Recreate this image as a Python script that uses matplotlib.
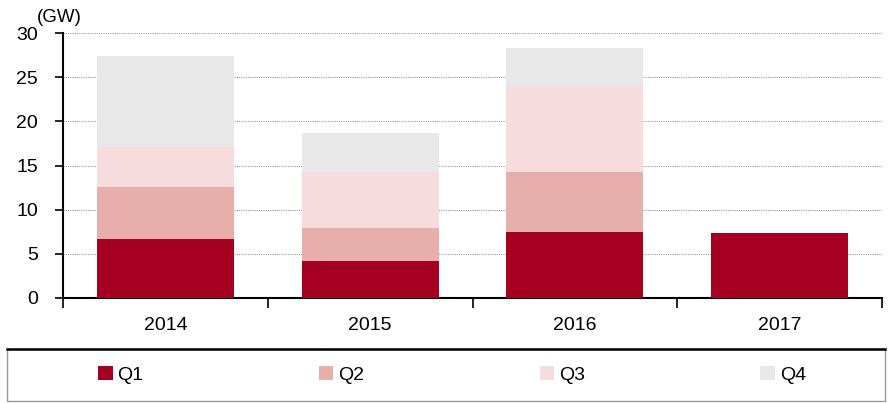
import matplotlib
matplotlib.use("Agg")
import matplotlib.pyplot as plt
import numpy as np
from matplotlib.patches import Rectangle
from matplotlib.lines import Line2D

plt.rcParams['font.family'] = ['Liberation Sans', 'DejaVu Sans']

years = ['2014', '2015', '2016', '2017']
q1 = [6.7, 4.2, 7.5, 7.4]
q2 = [5.9, 3.7, 6.8, 0]
q3 = [4.5, 6.4, 9.7, 0]
q4 = [10.3, 4.35, 4.3, 0]
labels = ['Q1', 'Q2', 'Q3', 'Q4']
colors = ['#A50021', '#E8AEAC', '#F6DCDC', '#E8E8E8']

fig = plt.figure(figsize=(8.91, 4.03), dpi=100)
ax = fig.add_axes([63/891, 105/403, 819/891, 265/403])

x = np.arange(len(years))
bottom = np.zeros(len(years))
for vals, lab, c in zip([q1, q2, q3, q4], labels, colors):
    v = np.array(vals)
    ax.bar(x, v, 0.67, bottom=bottom, color=c, label=lab, zorder=3)
    bottom += v

ax.set_xlim(-0.5, 3.5)
ax.set_ylim(0, 30)
ax.set_yticks(np.arange(0, 31, 5))
ax.yaxis.grid(True, linestyle=(0, (1, 1)), color='#999999', linewidth=0.8, zorder=0)
ax.set_axisbelow(True)
ax.spines['top'].set_visible(False)
ax.spines['right'].set_visible(False)
ax.spines['left'].set_linewidth(1.5)
ax.spines['bottom'].set_linewidth(1.5)
ax.tick_params(axis='y', direction='out', length=6, width=1.2, pad=12, labelsize=14)
ax.set_xticks(x)
ax.set_xticklabels(years)
ax.set_xticks(np.arange(-0.5, 4, 1), minor=True)
ax.tick_params(axis='x', which='major', length=0, pad=14, labelsize=14)
ax.tick_params(axis='x', which='minor', direction='out', length=7, width=1.2)

fig.text(37/891, 1 - 18/403, '(GW)', fontsize=13.5, ha='left', va='center')

# legend box
fig.patches.append(Rectangle((7/891, 2/403), 878/891, 52/403, transform=fig.transFigure,
                             facecolor='white', edgecolor='#999999', linewidth=1))
fig.lines.append(Line2D([7/891, 885/891], [54/403, 54/403], transform=fig.transFigure,
                        color='black', linewidth=1.8))

handles, labs = ax.get_legend_handles_labels()
fig.legend(handles, labs, ncol=4, mode='expand', loc='center',
           bbox_to_anchor=(98/891, 20/403, 708/891, 16/403), frameon=False,
           fontsize=14, handlelength=0.75, handleheight=0.75, handletextpad=0.25,
           borderpad=0, borderaxespad=0)

fig.savefig('out.png', dpi=100)
